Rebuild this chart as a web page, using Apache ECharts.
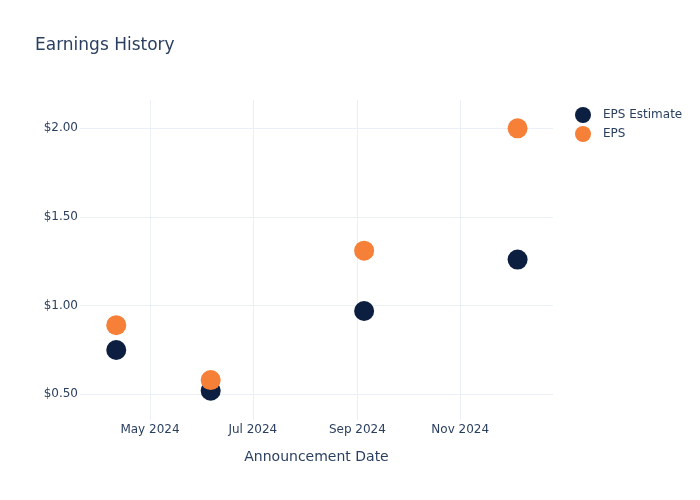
<!DOCTYPE html>
<html>
<head>
<meta charset="utf-8">
<script src="https://cdn.jsdelivr.net/npm/echarts@6/dist/echarts.min.js"></script>
<style>html,body{margin:0;padding:0;background:#fff}#c{width:700px;height:500px}</style>
</head>
<body>
<div id="c"></div>
<script>
const dates = ['2024-04-11', '2024-06-06', '2024-09-05', '2024-12-05'];
const epsEstimate = [0.75, 0.52, 0.97, 1.26];
const eps = [0.89, 0.58, 1.31, 2.00];
const xTickDates = ['2024-05-01', '2024-07-01', '2024-09-01', '2024-11-01'];
const xTickLabels = ['May 2024', 'Jul 2024', 'Sep 2024', 'Nov 2024'];
const yTicks = [0.5, 1.0, 1.5, 2.0];

const ts = d => Date.parse(d);
const xTicks = xTickDates.map(ts);
const FONT = 'DejaVu Sans';
const TXT = '#2a3f5f';
const GRID = '#ebf0f8';

const chart = echarts.init(document.getElementById('c'), null, {renderer: 'canvas'});
chart.setOption({
  animation: false,
  backgroundColor: '#fff',
  textStyle: {fontFamily: FONT},
  title: {
    text: 'Earnings History',
    left: 35, top: 37, padding: 0,
    textStyle: {fontFamily: FONT, fontSize: 17, fontWeight: 'normal', color: TXT}
  },
  legend: {
    orient: 'vertical',
    left: 575, top: 107, padding: 0,
    itemWidth: 16, itemHeight: 16, itemGap: 3,
    icon: 'circle',
    textStyle: {fontFamily: FONT, fontSize: 12, color: TXT, padding: [0, 0, 0, 7]},
    data: ['EPS Estimate', 'EPS']
  },
  grid: {left: 80, right: 147, top: 100, bottom: 80, containLabel: false},
  xAxis: {
    type: 'value',
    min: ts('2024-03-20T12:00:00Z'),
    max: ts('2024-12-26T00:00:00Z'),
    name: 'Announcement Date',
    nameLocation: 'middle',
    nameGap: 30,
    nameTextStyle: {fontFamily: FONT, fontSize: 14, color: TXT},
    axisLine: {show: false},
    axisTick: {show: false, customValues: xTicks},
    axisLabel: {
      customValues: xTicks,
      margin: 4,
      fontFamily: FONT, fontSize: 12, color: TXT,
      formatter: v => {
        const i = xTicks.indexOf(v);
        return i >= 0 ? xTickLabels[i] : '';
      }
    },
    splitLine: {show: true, lineStyle: {color: GRID, width: 1}}
  },
  yAxis: {
    type: 'value',
    min: 0.355,
    max: 2.16,
    axisLine: {show: false},
    axisTick: {show: false, customValues: yTicks},
    axisLabel: {
      customValues: yTicks,
      margin: 2,
      fontFamily: FONT, fontSize: 12, color: TXT,
      formatter: v => '$' + Number(v).toFixed(2)
    },
    splitLine: {show: true, lineStyle: {color: GRID, width: 1}}
  },
  series: [
    {
      name: 'EPS Estimate',
      type: 'scatter',
      symbolSize: 20,
      itemStyle: {color: '#0c1f40', opacity: 1},
      data: dates.map((d, i) => [ts(d), epsEstimate[i]])
    },
    {
      name: 'EPS',
      type: 'scatter',
      symbolSize: 20,
      itemStyle: {color: '#f68038', opacity: 1},
      data: dates.map((d, i) => [ts(d), eps[i]])
    }
  ]
});
</script>
</body>
</html>
